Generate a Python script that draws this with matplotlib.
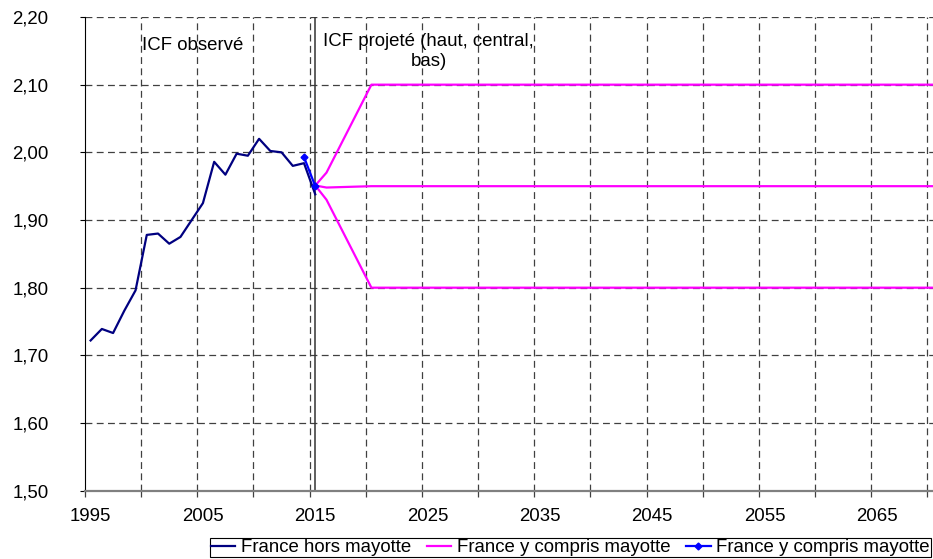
import matplotlib
matplotlib.use("Agg")
import matplotlib.pyplot as plt
from matplotlib.ticker import FixedLocator, FuncFormatter

# ---------------- data ----------------
years_obs = [1995, 1996, 1997, 1998, 1999, 2000, 2001, 2002, 2003, 2004,
             2005, 2006, 2007, 2008, 2009, 2010, 2011, 2012, 2013, 2014, 2015]
icf_hors_mayotte = [1.722, 1.739, 1.733, 1.766, 1.796, 1.878, 1.880, 1.865,
                    1.875, 1.900, 1.925, 1.986, 1.967, 1.998, 1.995, 2.020,
                    2.002, 2.000, 1.980, 1.984, 1.938]

years_avec = [2014, 2015]
icf_avec_mayotte = [1.993, 1.950]

years_proj = [2015, 2016, 2020, 2070]
proj_haut = [1.951, 1.970, 2.10, 2.10]
proj_central = [1.951, 1.948, 1.95, 1.95]
proj_bas = [1.951, 1.930, 1.80, 1.80]

x_labels = [1995, 2005, 2015, 2025, 2035, 2045, 2055, 2065]
y_ticks = [1.50, 1.60, 1.70, 1.80, 1.90, 2.00, 2.10, 2.20]
x_grid = [1999.5, 2004.5, 2009.5, 2014.5, 2019.5, 2024.5, 2029.5, 2034.5,
          2039.5, 2044.5, 2049.5, 2054.5, 2059.5, 2064.5, 2069.5]
year_separation = 2015

label_hors = "France hors mayotte"
label_avec = "France y compris mayotte"
text_obs = "ICF observé"
text_proj = "ICF projeté (haut, central,\nbas)"

# ---------------- style ----------------
plt.rcParams['font.family'] = ['Liberation Sans', 'DejaVu Sans']
FS = 13.4

fig = plt.figure(figsize=(9.33, 5.59), dpi=100)
ax = fig.add_axes([85 / 933, 68.3 / 559, 848 / 933, 473.7 / 559])

ax.set_xlim(1994.5, 2070.0)
ax.set_ylim(1.50, 2.20)

grid_kw = dict(color='#404040', linewidth=0.9, dashes=(5.5, 3.5), zorder=1)
for yv in y_ticks[1:]:
    ax.axhline(yv, **grid_kw)
for xv in x_grid:
    ax.axvline(xv, **grid_kw)

ax.axvline(year_separation, color='#333333', linewidth=1.1, zorder=2)

l1, = ax.plot(years_obs, icf_hors_mayotte, color='#000080', linewidth=1.6,
              zorder=4, label=label_hors)
l2, = ax.plot(years_proj, proj_haut, color='#FF00FF', linewidth=1.6, zorder=3,
              label=label_avec)
ax.plot(years_proj, proj_central, color='#FF00FF', linewidth=1.6, zorder=3)
ax.plot(years_proj, proj_bas, color='#FF00FF', linewidth=1.6, zorder=3)
l3, = ax.plot(years_avec, icf_avec_mayotte, color='#0000FF', linewidth=1.6,
              marker='D', markersize=3.5, zorder=5, label=label_avec)

# spines
for s in ['top', 'right']:
    ax.spines[s].set_visible(False)
ax.spines['left'].set_color('black')
ax.spines['left'].set_linewidth(0.8)
ax.spines['bottom'].set_color('#808080')
ax.spines['bottom'].set_linewidth(1.6)
ax.spines['bottom'].set_zorder(6)

# ticks
ax.yaxis.set_major_locator(FixedLocator(y_ticks))
ax.yaxis.set_major_formatter(FuncFormatter(lambda v, p: f"{v:.2f}".replace('.', ',')))
ax.tick_params(axis='y', direction='out', length=3.6, width=0.8, color='black',
               labelsize=FS, pad=22.5)

ax.xaxis.set_major_locator(FixedLocator(x_labels))
ax.xaxis.set_minor_locator(FixedLocator([1994.5] + x_grid))
ax.tick_params(axis='x', which='major', length=0, labelsize=FS, pad=12.5)
ax.tick_params(axis='x', which='minor', direction='out', length=4.5,
               width=0.9, color='#404040')

# annotations
ax.text(1999.6, 2.1586, text_obs, ha='left', va='center', fontsize=FS, zorder=7)
ax.text(2025.1, 2.1487, text_proj, ha='center', va='center', fontsize=FS,
        multialignment='center', linespacing=1.25, zorder=7)

leg = fig.legend(handles=[l1, l2, l3], labels=[label_hors, label_avec, label_avec],
                 loc='lower right', bbox_to_anchor=(0.9995, 0.0), ncol=3,
                 fontsize=FS, frameon=True, fancybox=False, framealpha=1,
                 edgecolor='black', borderpad=0.05, handlelength=1.3,
                 handletextpad=0.3, columnspacing=0.85, borderaxespad=0.1)
leg.get_frame().set_linewidth(0.8)

fig.savefig("out.png", dpi=100)
